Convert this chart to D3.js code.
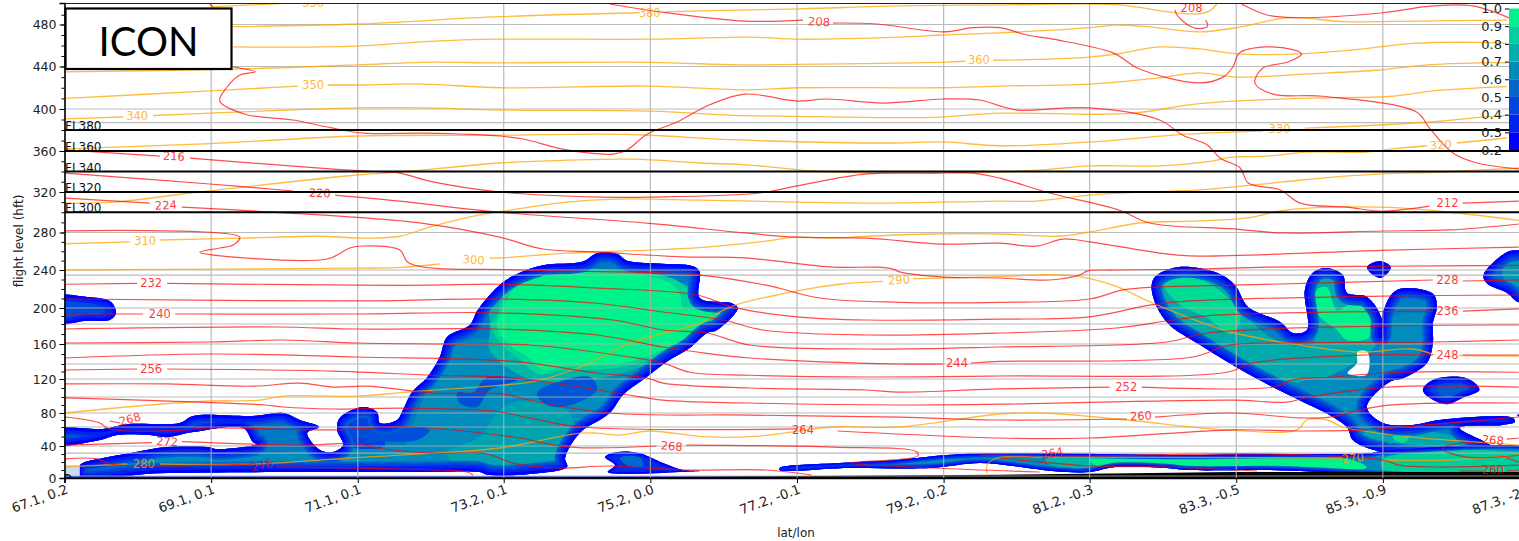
<!DOCTYPE html>
<html>
<head>
<meta charset="utf-8">
<script src="https://cdn.jsdelivr.net/npm/d3@7"></script>
<style>
  html, body { margin: 0; padding: 0; background: #fff; overflow: hidden; }
  svg { display: block; }
  text { font-family: "DejaVu Sans", sans-serif; }
</style>
</head>
<body>
<svg id="chart" width="1519" height="541"></svg>
<script>
// Along-track distance (km) of the x ticks, and what they are labelled with
const xTickDist = [0, 220, 440, 659, 879, 1099, 1319, 1538, 1758, 1978, 2198];
const xTickLabels = ['67.1, 0.2', '69.1, 0.1', '71.1, 0.1', '73.2, 0.1', '75.2, 0.0', '77.2, -0.1', '79.2, -0.2', '81.2, -0.3', '83.3, -0.5', '85.3, -0.9', '87.3, -2.5'];

// The height axis is not linear: tick heights and minor ticks
const yStops = [0, 40, 60, 80, 100, 120, 140, 160, 180, 200, 240, 280, 320, 360, 400, 440, 480, 502];
const yTicks = [0, 40, 80, 120, 160, 200, 240, 280, 320, 360, 400, 440, 480];
const yMinor = d3.range(0, 500, 10);
const gridLevels = [2.5, 31, 40, 60, 80, 100, 120, 140, 160, 180, 200, 234.7, 240, 280, 300, 320, 340, 360, 380, 387, 400, 440, 480];
const flightLevels = [300, 320, 340, 360, 380];
const cbarLevels = [0.2, 0.3, 0.4, 0.5, 0.6, 0.7, 0.8, 0.9, 1.0];

// Terrain along the track [km, hft]
const terrain = [[700,0],[1103,2.5],[1403,4],[1600,6],[1750,7.5],[2198,7.5]];

// Isentropes, [km, hft], null = gap left for a contour label
const isentropes = [
  [[220,498],[338,502]],
  [[253,478],[439,480.5],[653,488],[863,492],null,[901,493],[953,494],[1103,496],[1253,499],[1403,500],[1538,501],[1583,500],[1669,492],[1703,491],[1718,494],[1729,501]],
  [[253,458.6],[439,459.5],[548,464],[653,466],[878,466],[1028,468],[1103,466],[1253,468],[1318,470],[1403,472],[1538,477],[1579,479.5],[1624,478],[1703,473],[1759,477],[1838,487],[1918,483],[2029,483.5],[2164,484.5]],
  [[1,435],[253,437.5],[439,441.5],[538,444],[653,443.5],[878,444],[1013,441.5],[1099,442],[1318,444],[1351,445],null,[1393,446],[1403,446],[1538,449],[1579,452],[1643,458.6],[1703,456.7],[1759,452],[1853,452],[1948,456.7],[2023,462],[2123,463],[2164,462]],
  [[1,410],[218,417],[350,421.6],null,[395,422.6],[439,422.6],[538,423.5],[653,420],[878,421.6],[1024,418],[1099,420],[1318,420],[1403,421.6],[1538,423.5],[1639,429],[1703,434],[1759,430],[1864,433],[1973,436.7],[2044,441.5],[2123,443.5],[2164,443.5]],
  [[1,390.5],[88,392.4],null,[133,393.8],[218,396],[439,401],[538,401],[653,399],[878,398],[1003,394],[1099,393],[1303,392],[1403,396],[1538,395],[1603,396],[1703,405],[1853,410],[1993,412],[2053,417],[2164,421]],
  [[1,362],[218,367],[439,374.3],[653,375],[803,376],[878,375],[1013,370.5],[1243,367.6],[1318,368.6],[1403,365],[1538,368.6],[1684,376],[1798,378.9],null,[1861,381.7],[2044,387.4],[2123,392],[2164,394]],
  [[1,309],[73,310],[203,320],[439,336.6],[503,339.5],[653,348.3],[754,351],[853,352],[953,348.3],[1028,346.3],[1123,340.5],[1223,338.5],[1403,339.5],[1468,341.5],[1538,345.4],[1643,345.4],[1713,349.3],[1753,354],[1803,355],[1864,359],[1954,359],[1993,362],[2044,365],null,[2089,367.6],[2164,372.4]],
  [[1,268],[98,270],null,[143,272],[268,274],[379,276],[454,274],[503,276],[548,285.4],[623,297.4],[658,301],[754,310],[829,313],[953,312],[1099,310],[1228,309],[1403,311],[1458,311],[1538,317],[1618,320],[1703,322],[1828,329.8],[1903,334.6],[1978,337.6],[2068,339.5],[2182,343.4]],
  [[1,240],[439,242],[503,242.7],[563,246.4],null,[638,252.8],[653,252.8],[754,258],[878,261.3],[964,264.5],[1043,270],[1099,275],[1153,274],[1204,276],[1303,278.4],[1403,278.4],[1489,276],[1538,280.5],[1613,289.4],[1703,291.4],[1774,294.4],[1834,302.3],[1973,305],[2063,301],[2182,292]],
  [[1,80],[128,90],[218,95],[293,96],[328,101],[439,101],[523,106],[653,113],[703,117],[774,136],[849,161],[953,181],[998,201],[1099,218],[1163,225],[1228,228],null,[1273,231],[1403,233],[1478,235],[1523,233],[1579,222.5],[1633,205],[1744,173],[1853,159],[1943,152],[2023,155],[2056,149],null,[2093,148.5],[2182,148]],
  [[1,14],[94,17.5],null,[143,17.5],[283,17.5],[428,25],[553,31],[653,37.5],[774,53.5],[799,53.5],[834,51.5],[878,55.8],[964,49.5],[1043,50.5],[1153,60],[1253,60],[1403,78.6],[1468,80],[1594,70],[1744,57],[1849,57],[1864,70],[1894,70],[1918,60],[2018,49.5],[2143,43],[2182,41]],
  [[1384,6],[1384,16],[1399,25],[1474,26],[1918,25],null,[1978,22.5],[2078,22.5],[2182,29]]
];

// Isotherms, same format
const isotherms = [
  [[818,501],[893,493],[1021,483.5],[1108,484.5],null,[1153,481.5],[1219,480.5],[1318,473],[1363,477],[1403,477],[1444,470],[1483,466],[1573,453],[1613,437.6],[1703,424.5],[1738,430],[1753,439.5],[1763,453],[1803,458.6],[1843,456],[1856,452],[1834,444],[1798,438.6],[1786,424.5],[1813,414],[1888,412],[2029,397],[2048,381.7],[2083,358],[2119,348.3],[2182,342.5]],
  [[1766,501],[1803,490],[1843,487],[1978,492],[2053,499],[2113,499],[2182,482.5]],
  [[1666,495],[1669,490],[1688,478.5],[1703,476],[1715,478.5],[1712,484.5]],
  [[218,501],[223,498]],
  [[253,439.5],[286,435],[263,432],[244,420.7],[233,407.5],[271,395],[343,389.5],[403,381.7],[448,377],[538,377],[653,374.3],[688,371.4],[754,361],[823,357],[844,361],[874,376],[919,387.6],[968,404],[1021,414],[1099,407.5],[1144,409.4],[1228,405.6],[1318,409.4],[1373,408.5],[1403,403],[1429,399],[1538,401],[1643,389.5],[1678,375],[1714,366],[1734,353],[1764,343.4],[1776,328.8],[1824,322],[1854,309],[1924,305],[1978,301],[2048,306],null,[2098,309],[2182,311]],
  [[1,361],[143,355],null,[188,353],[403,342.4],[478,339.5],[503,338.5],[553,329.8],[653,320],[803,315],[878,315],[1043,319],[1099,326],[1204,337.6],[1303,338.5],[1363,338.5],[1403,333.6],[1478,319],[1583,302],[1628,289.4],[1753,283.5],[1828,279.5],[1978,281.5],[2078,282.5],[2182,288.4]],
  [[1,338.5],[218,327.8],[343,321],null,[406,317],[503,311],[653,300],[878,289],[1021,279.5],[1099,275],[1204,274],[1318,267.6],[1403,268.6],[1458,265.4],[1498,273],[1538,270],[1643,258],[1688,255],[1976,261],[2182,264.5]],
  [[1,314],[128,309],null,[176,305],[439,295],[538,289],[653,275],[718,262.4],[803,259],[928,254],[1021,253],[1153,243],[1219,243],[1243,241],[1253,238],[1318,232.6],[1403,231.6],[1478,229.5],[1523,234.7],[1535,239],[1576,240],[1703,241],[1803,243],[1978,244],[2182,245]],
  [[1,281.6],[263,275],[253,266.7],[233,263.5],[203,259],[394,251.7],[428,263.5],[448,265.6],[503,261.3],[517,247.4],[694,240],[953,234.7],[1053,224],[1133,210.5],[1253,206],[1403,206],[1538,209.5],[1588,219],[1633,222],[1753,224],[2053,229.5],null,[2098,228.4],[2182,229.5]],
  [[1,225],[109,226],null,[154,226],[439,224],[543,224],[653,225],[799,221],[949,213.7],[1003,201],[1099,189],[1204,185],[1403,186],[1538,189],[1628,203],[1688,207.4],[1978,212.6],[2182,213.7]],
  [[1,209.5],[439,207.4],[653,209.5],[799,205],[898,195],[988,185],[1048,174],[1204,169],[1403,171],[1579,176],[1663,185],[1729,191],[2053,196],null,[2098,196],[2182,199]],
  [[1,192.5],[118,192.5],null,[166,192.5],[439,192.5],[649,194],[823,185],[898,174],[964,171],[1028,159],[1204,155],[1403,157],[1654,162],[1714,171],[1978,178],[2182,179]],
  [[1,175],[319,177],[439,175],[649,175],[799,169],[898,157],[949,152],[1028,146],[1253,140],[1318,140],null,[1360,141],[1403,142.6],[1693,147],[1748,159],[1828,161],[2053,162],[2182,164]],
  [[1,161],[218,162],[328,164],[439,161],[568,160],[698,159],[848,147],[898,141],[938,129],[1028,125],[1204,122.7],[1403,124],[1744,129],[1783,141],[1954,149],[2053,149],null,[2098,149],[2182,149]],
  [[1,146],[218,150],[439,147],[673,142.6],[799,128],[874,121.3],[898,115.5],[1028,110],[1204,107.8],[1253,105.5],[1403,109],[1568,111],null,[1616,111],[1813,111],[1843,119],[1903,122.7],[2003,129],[2182,129]],
  [[1,132],[109,133.3],null,[154,133.3],[403,130.6],[553,125],[658,122.7],[723,116.7],[838,103.3],[898,96],[1028,92.5],[1253,90],[1403,91],[1753,96],[1834,93.7],[1868,100],[1984,111],[2182,111]],
  [[1,114.5],[154,114.5],[283,112],[353,115.5],[403,111],[454,112],[553,104.4],[658,103.3],[698,96],[818,80],[1028,77],[1253,74],[1403,70],[1594,71.4],null,[1636,74],[1753,80],[1853,73],[1898,74],[1978,89],[2182,92.5]],
  [[1,99],[301,90],[328,87.5],[403,85],[518,86],[643,82.5],[698,73],[774,60],[1099,58],null,[1160,55.8],[1403,48.4],[1538,48.4],[1753,57],[1853,55.8],[1954,57],[2053,63.7],[2182,74.3]],
  [[1,74.3],[53,65.7],[64,59],[94,55.8],[184,57],[218,59],[403,57],[518,60],[673,49.5],[758,38.7],[888,40],null,[933,41],[1153,38.7],[1279,32.5],[1280,27.5],[1178,18.7],[1303,12.5],[1463,7.5]],
  [[68,68.6],[83,65.7]],
  [[1,41],[131,43.5],null,[176,44.7],[353,41],[439,42.4],[469,37.5],[553,31],[634,30],[673,18.7],[739,12.5],[818,15],[928,10],[1053,10],[1121,3.75]],
  [[1,24],[49,24],[68,17.5],[283,17.5],null,[319,14],[503,11],[604,7.5],[613,3.75]],
  [[1373,28.7],[1458,27.5],null,[1492,27.5],[1538,27.5],[1803,30],[1978,22.5],[2003,16],[2053,13.75],[2182,16]],
  [[1403,25],[1538,15],[1653,13.75],[1789,8.75]],
  [[2182,48.4],[2164,47.2],null,[2116,44.2],[2096,43],[2078,41],[2068,36],[2104,26],[2182,28.7]],
  [[2093,8.75],[2128,8.75],null,[2164,8.75],[2182,10]],
  [[2164,25],[2182,20]]
];

// Contour labels [text, km, hft, rotation]
const isentropeLabels = [
  ['350',373,502,0],['380',878,492,0],['360',1372,446,0],['350',373,422.6,0],['340',109,393,0],['330',1823,381,0],
  ['320',2065,366,-5],['310',121,271,0],['300',614,251,4],['290',1252,229.5,-4],['280',119,17.5,0],['270',1933,25,-5]
];
const isothermLabels = [
  ['216',164,355,3],['220',383,319,2],['224',152,307,-3],['232',130,226,0],['240',143,192.5,0],['256',130,133.3,0],
  ['268',98,71.4,-15],['272',154,44.7,3],['276',296,16,-12],['208',1132,483,3],['208',1691,497,0],['228',2075,229.5,0],
  ['236',2075,196,0],['248',2075,149,0],['212',2075,309,0],['244',1339,141,0],['252',1593,111,0],['260',1615,76,-3],
  ['264',1108,57,0],['268',911,40,4],['264',1482,31.3,-10],['268',2143,46.3,5],['260',2143,10,0]
];

// Cloud outlines and inner patches ([level, ring])
const cloudMain = [[-20,57],[58,58],[94,64],[173,65.7],[193,75.7],[283,75.7],[328,80],[353,70],[382,60],[364,53.7],[383,35],[403,32.5],[418,41],[409,57],[413,73],[448,87.5],[469,81],[473,65.7],[499,70],[508,84],[521,105],[544,122],[563,147],[574,167],[608,179],[620,197.5],[656,226],[683,237],[718,245],[778,249],[799,258],[829,257],[844,250],[889,247],[943,244],[953,238],[953,210.5],[1001,205],[1010,200],[979,174],[964,171],[938,156],[904,142.6],[871,121],[838,102.5],[818,80],[773,53.7],[751,25],[754,14],[698,5],[635,4],[623,7.5],[523,7.5],[353,7.5],[139,6],[23,1.25],[23,16],[58,25],[98,31],[154,38.7],[214,38.7],[229,36],[289,42],[283,44],[268,59],[193,54.7],[154,49.5],[128,51.6],[79,51.6],[53,46.3],[-20,42]];
const cloudMainPatches = [
  [0.66,[[511,41],[541,102],[563,144],[608,164],[713,159],[863,132],[833,96],[773,57],[743,16],[608,10],[511,12.5]]],
  [0.66,[[53,10],[128,25],[293,31],[503,41],[578,41],[623,12.5],[353,12.5],[139,10]]],
  [0.55,[[53,54.7],[173,59],[218,69],[323,67.8],[346,59],[278,57]]],
  [0.42,[[405,73],[440,80],[470,60],[480,40],[400,45]]],
  [0.8,[[638,171],[649,226],[923,226],[994,194],[898,147],[799,120],[698,120],[638,154]]],
  [0.74,[[623,49.5],[658,87.5],[709,96],[758,80],[763,49.5],[743,18.7],[698,7.5],[598,10],[574,31]]],
  [0.74,[[368,18.7],[443,22.5],[488,16],[428,10],[368,12.5]]],
  [0.46,[[589,105],[613,105],[634,122.7],[679,119],[638,108],[619,87.5],[593,92.5]]],
  [0.46,[[428,57],[458,60],[548,57],[529,46.3],[448,48.4]]],
  [0.48,[[709,105],[788,122.7],[799,108],[748,87.5],[718,92.5]]],
  [0.9,[[648,190],[672,232],[748,241],[905,233],[935,220],[940,205],[985,197],[958,170],[900,150],[838,136],[748,131],[710,127],[684,144],[655,160],[640,178]]],
  [1.0,[[658,201],[683,226],[748,237],[898,229.5],[923,216],[928,201],[973,195],[949,174],[898,154],[838,141],[748,136],[718,132],[694,147],[668,159],[649,177]]]
];
const cloudRight = [[1631,222],[1636,232.6],[1670,243],[1729,237],[1756,224],[1776,201],[1824,182.5],[1843,171],[1864,174],[1861,219],[1873,237],[1894,242],[1918,234.7],[1924,216],[1954,211.6],[1975,189],[1975,169],[1978,194],[1999,219],[2053,215],[2059,201],[2053,181],[2053,161],[2044,141],[2008,121],[1988,116.7],[1954,87.5],[1978,65.7],[2023,63],[2063,70],[2173,73],[2176,67],[2158,63],[2093,59],[2143,38.7],[2146,31],[1978,32.5],[1933,46.3],[1925,59],[1898,77],[1853,96],[1813,111],[1763,133.3],[1699,161],[1658,179],[1639,201]];
const cloudRightHole = [[1940,152],[1955,152],[1954,126],[1925,127.6],[1939,141]];
const cloudRightPatches = [
  [0.76,[[1643,222],[1733,226],[1778,185],[1828,161],[1873,161],[1873,226],[1913,229.5],[1918,208],[1963,205],[1969,161],[1924,136],[1864,115.5],[1813,122.7],[1759,144],[1673,185]]],
  [0.66,[[1853,115.5],[1963,115.5],[1939,87.5],[1913,80],[1873,100]]],
  [0.66,[[1993,189],[2044,189],[2044,161],[2018,136],[1984,128],[1973,161]]],
  [0.75,[[1954,57],[2063,53.7],[2123,41],[1984,35],[1948,46.3]]],
  [0.95,[[1993,51.6],[2018,51.6],[2011,43.7],[1996,46.3]]],
  [0.92,[[1650,225],[1690,232],[1730,220],[1765,190],[1750,170],[1714,188],[1670,205]]],
  [1.0,[[1879,219],[1894,222],[1909,197.5],[1933,205],[1958,195],[1958,167],[1924,164],[1909,174],[1879,194]]]
];
const cloudBand = [[1073,12.5],[1163,18.7],[1249,22.5],[1324,28.7],[1399,31],[1673,28.7],[1803,30],[1958,31],[1978,33.7],[2230,32.5],[2230,10],[1803,10],[1684,10],[1654,12.5],[1579,14],[1538,7.5],[1504,7.5],[1468,10],[1423,15],[1373,18.7],[1298,12.5],[1174,12.5],[1073,10]];
const cloudBandPatches = [
  [0.8,[[1474,26],[1673,26],[1684,12.5],[1538,11],[1474,18.7]]],
  [0.88,[[1978,24],[2230,25],[2230,11],[1978,11]]],
  [1.0,[[1538,23],[1750,25.5],[1918,25.5],[1954,13],[1750,12.5],[1553,14]]]
];
const cloudTopLeft = [[-20,211.6],[34,211.6],[68,207.4],[76,200],[77,192.5],[68,185],[34,184],[-20,181]];
const cloudTopLeftPatches = [[0.45,[[-20,205],[46,204],[61,197.5],[46,189],[-20,187.5]]]];
const cloudSmallA = [[1954,243],[1973,249.5],[1990,243],[1976,231.6],[1963,234.7]];
const cloudEdge = [[2129,234.7],[2164,259],[2182,261],[2230,261],[2230,206],[2182,206],[2164,216],[2134,226]];
const cloudEdgePatches = [[0.7,[[2161,245],[2230,248],[2230,218.5],[2161,229.5]]]];
const cloudOval = [[2038,108],[2053,119],[2104,121],[2123,108],[2098,99],[2074,91],[2048,99]];
const cloudOvalPatches = [[0.5,[[2059,110],[2101,112.6],[2108,106],[2071,99]]]];
const cloudDot = [[2179,77],[2186,78.6],[2186,73]];
const cloudLow = [[811,26],[829,32.5],[863,31],[898,18.7],[928,10],[953,8.75],[923,7.5],[838,5],[815,7.5],[826,16]];
const cloudLowPatches = [[0.55,[[833,25],[863,26],[868,15],[844,16]]]];

const W = 1519, H = 541;
const plot = { left: 64.5, right: 1529.5, top: 3.5, bottom: 478 };

const x = d3.scaleLinear().domain([0, 2198]).range([plot.left, plot.right]);
const y = d3.scaleLinear().domain(yStops)
  .range([478, 446, 427, 413, 397, 379, 364, 344, 324, 308, 270, 232.5, 192, 151, 109, 66.5, 24.5, 3]);
const cbarY = d3.scaleLinear().domain([0.2, 1.0]).range([150, 8.5]);
const cloudColor = v => d3.interpolateRgb('#0000ff', '#00f38a')((v - 0.2) / 0.8);

const svg = d3.select('#chart');
const defs = svg.append('defs');
defs.append('clipPath').attr('id', 'plot-clip').append('rect')
  .attr('x', plot.left).attr('y', plot.top)
  .attr('width', plot.right - plot.left).attr('height', plot.bottom - plot.top);

const inner = svg.append('g').attr('clip-path', 'url(#plot-clip)');

const ringPath = d3.line().x(d => x(d[0])).y(d => y(d[1])).curve(d3.curveCatmullRomClosed.alpha(0.5));
const contourPath = d3.line().defined(d => d !== null).x(d => x(d[0])).y(d => y(d[1])).curve(d3.curveCatmullRom.alpha(0.5));

// Rim: blue band at the edge of each cloud, getting greener inward
const rimBands = [[21, 0.52], [17, 0.42], [12, 0.32], [6, 0.2]];
let cloudId = 0;
function drawCloud(ring, base, patches, rimScale, hole){
  const id = 'cloud-' + (cloudId++);
  defs.append('clipPath').attr('id', id).append('path').attr('d', ringPath(ring));
  const g = inner.append('g').attr('clip-path', `url(#${id})`);
  g.append('path').attr('d', ringPath(ring)).attr('fill', cloudColor(base));
  (patches || []).forEach(p => {
    g.append('path').attr('d', ringPath(p[1])).attr('fill', cloudColor(p[0]));
  });
  rimBands.filter(b => b[1] < base).forEach(b => {
    g.append('path').attr('d', ringPath(ring)).attr('fill', 'none')
      .attr('stroke', cloudColor(b[1])).attr('stroke-width', b[0] * rimScale)
      .attr('stroke-linejoin', 'round');
  });
  if(hole) g.append('path').attr('d', ringPath(hole)).attr('fill', '#fff');
}

drawCloud(cloudMain, 0.6, cloudMainPatches, 1);
drawCloud(cloudRight, 0.62, cloudRightPatches, 1, cloudRightHole);
drawCloud(cloudBand, 0.66, cloudBandPatches, 0.4);
drawCloud(cloudTopLeft, 0.35, cloudTopLeftPatches, 1);
drawCloud(cloudSmallA, 0.25, [], 1);
drawCloud(cloudEdge, 0.55, cloudEdgePatches, 1);
drawCloud(cloudOval, 0.42, cloudOvalPatches, 1);
drawCloud(cloudDot, 0.2, [], 1);
drawCloud(cloudLow, 0.35, cloudLowPatches, 0.6);

// Washed-out patch in the corner by the first sample
inner.append('rect')
  .attr('x', x(0)).attr('y', y(16)).attr('width', x(23) - x(0)).attr('height', y(0) - y(16))
  .attr('fill', '#c6dbf5');

// Thin cloud layer along the ground and the terrain
inner.append('line').attr('x1', x(0)).attr('x2', x(2198)).attr('y1', y(1)).attr('y2', y(1))
  .attr('stroke', '#0010e0').attr('stroke-width', 2);
inner.append('path')
  .attr('d', d3.area().x(d => x(d[0])).y0(y(0)).y1(d => y(d[1]))(terrain))
  .attr('fill', '#000');

// Grid
const grid = inner.append('g').attr('stroke', '#b0b0b0').attr('stroke-width', 1.2).attr('opacity', 0.85);
grid.selectAll('line.h').data(gridLevels).enter().append('line')
  .attr('class', 'h').attr('x1', plot.left).attr('x2', plot.right)
  .attr('y1', d => y(d)).attr('y2', d => y(d));
grid.selectAll('line.v').data(xTickDist).enter().append('line')
  .attr('class', 'v').attr('y1', plot.top).attr('y2', plot.bottom)
  .attr('x1', d => x(d)).attr('x2', d => x(d));

// Contours
inner.append('g').attr('fill', 'none').attr('stroke', '#ffa500').attr('stroke-width', 1.3).attr('stroke-opacity', 0.75)
  .selectAll('path').data(isentropes).enter().append('path').attr('d', d => contourPath(d));
inner.append('g').attr('fill', 'none').attr('stroke', '#ff0000').attr('stroke-width', 1.2).attr('stroke-opacity', 0.7)
  .selectAll('path').data(isotherms).enter().append('path').attr('d', d => contourPath(d));

function drawLabels(data, color){
  inner.append('g').selectAll('text').data(data).enter().append('text')
    .attr('transform', d => `translate(${x(d[1])},${y(d[2])}) rotate(${d[3]})`)
    .attr('text-anchor', 'middle').attr('dy', '0.36em')
    .attr('font-size', 11.5).attr('fill', color).attr('fill-opacity', 0.8)
    .text(d => d[0]);
}
drawLabels(isentropeLabels, '#ffa500');
drawLabels(isothermLabels, '#ff0000');

// Flight level lines
const fl = inner.append('g');
fl.selectAll('line').data(flightLevels).enter().append('line')
  .attr('x1', plot.left).attr('x2', plot.right)
  .attr('y1', d => y(d)).attr('y2', d => y(d))
  .attr('stroke', '#000').attr('stroke-width', 1.8);
fl.selectAll('text').data(flightLevels).enter().append('text')
  .attr('x', plot.left + 0.5).attr('y', d => y(d))
  .attr('font-size', 12).attr('fill', '#111')
  .text(d => 'FL' + d);

// Ground mark at the start of the track
inner.append('circle').attr('cx', x(4)).attr('cy', y(-1)).attr('r', 4)
  .attr('fill', 'none').attr('stroke', '#111').attr('stroke-width', 1.6);

// Axes
const xAxis = svg.append('g').attr('transform', `translate(0,${plot.bottom})`)
  .call(d3.axisBottom(x).tickValues(xTickDist).tickSize(5).tickFormat((d, i) => xTickLabels[i]));
xAxis.selectAll('text')
  .attr('font-size', 13.2).attr('fill', '#222')
  .attr('text-anchor', 'end')
  .attr('transform', 'rotate(-20)')
  .attr('dx', '-0.1em').attr('dy', '0.55em');

const yAxis = svg.append('g').attr('transform', `translate(${plot.left},0)`)
  .call(d3.axisLeft(y).tickValues(yTicks).tickSize(5).tickFormat(d3.format('d')));
yAxis.selectAll('text').attr('font-size', 12.5).attr('fill', '#222');
svg.append('g').attr('transform', `translate(${plot.left},0)`)
  .call(d3.axisLeft(y).tickValues(yMinor).tickSize(3).tickFormat(''))
  .select('.domain').remove();

svg.selectAll('.domain').attr('stroke', '#000').attr('stroke-width', 1.6);
svg.append('line').attr('x1', plot.left).attr('x2', plot.right).attr('y1', plot.top).attr('y2', plot.top)
  .attr('stroke', '#222').attr('stroke-width', 1);

svg.append('text').attr('x', 796).attr('y', 537).attr('text-anchor', 'middle')
  .attr('font-size', 12).attr('fill', '#222').text('lat/lon');
svg.append('text').attr('transform', 'translate(23,241) rotate(-90)').attr('text-anchor', 'middle')
  .attr('font-size', 12).attr('fill', '#222').text('flight level (hft)');

// Title box
svg.append('rect').attr('x', 65.5).attr('y', 8.5).attr('width', 166).attr('height', 60.5)
  .attr('fill', '#fff').attr('stroke', '#000').attr('stroke-width', 2.2);
svg.append('text').attr('x', 148.5).attr('y', 56).attr('text-anchor', 'middle')
  .style('font-family', 'Lato, "Open Sans", sans-serif').attr('font-size', 40).attr('fill', '#000').text('ICON');

// Colorbar
const cbar = svg.append('g');
cbar.selectAll('rect').data(d3.pairs(cbarLevels)).enter().append('rect')
  .attr('x', 1509).attr('width', 12)
  .attr('y', d => cbarY(d[1])).attr('height', d => cbarY(d[0]) - cbarY(d[1]))
  .attr('fill', (d, i) => cloudColor(0.2 + 0.8 * i / (cbarLevels.length - 2)))
  .attr('stroke', 'none');
const cbarAxis = cbar.append('g').attr('transform', 'translate(1509,0)')
  .call(d3.axisLeft(cbarY).tickValues(cbarLevels).tickSize(4).tickFormat(d3.format('.1f')));
cbarAxis.select('.domain').remove();
cbarAxis.selectAll('text').attr('font-size', 13).attr('fill', '#222');
</script>
</body>
</html>
